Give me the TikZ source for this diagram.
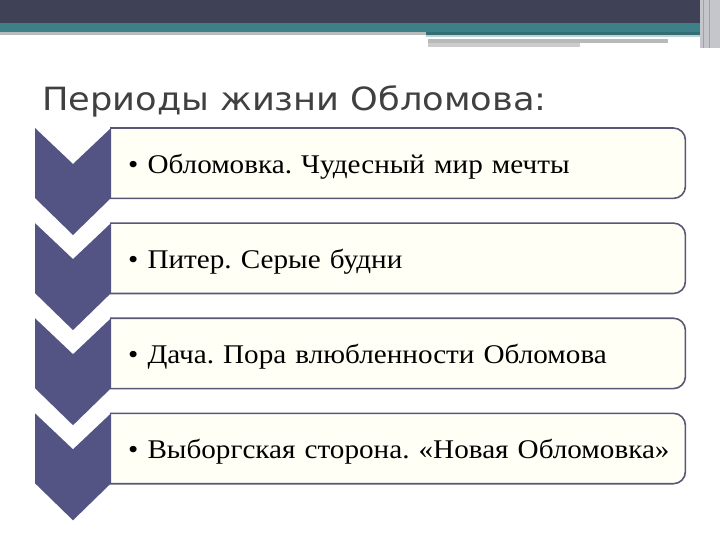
\documentclass[tikz,border=0pt]{standalone}
\usepackage{fontspec}
\setmainfont[FakeStretch=1.08, WordSpace=1.25]{Liberation Serif}
\newfontfamily\titlefont[FakeStretch=1.1]{DejaVu Sans}
\usetikzlibrary{positioning}
\definecolor{barDark}{RGB}{63,66,86}
\definecolor{barTeal}{RGB}{62,128,136}
\definecolor{chevFill}{RGB}{84,84,132}
\definecolor{lineCol}{RGB}{88,87,116}
\definecolor{boxFill}{RGB}{255,255,246}
\definecolor{titleCol}{RGB}{64,64,64}
\frenchspacing

\begin{document}
\begin{tikzpicture}[
        x=1pt, y=-1pt,
        node distance=24.7pt,
        item/.style={rectangle, fill=boxFill, rounded corners=12pt, minimum width=575pt, minimum height=70pt},
        itemtext/.style={anchor=base west, inner sep=0pt, font=\fontsize{27}{30}\selectfont},
        border/.style={draw=lineCol, line width=1.6pt, rounded corners=12pt},
        chev/.style={fill=chevFill}
    ]
    \useasboundingbox (0,0) rectangle (720,540);

    % ВЕРХНЯЯ ПОЛОСА
    \fill[barDark] (0,0) rectangle (720,23);
    \fill[barTeal] (0,23) rectangle (720,32);
    \fill[black!25!cyan!10!gray!60] (0,32) rectangle (426,35);
    \fill[barTeal!85!black] (426,32) rectangle (700,35);
    \fill[barTeal!35!white] (426,35) rectangle (700,37);
    \fill[gray!55] (428,39) rectangle (668,43);
    \fill[gray!40] (428,43) rectangle (580,47);
    \fill[barDark!30!white] (700,0) rectangle (720,48);
    \draw[barDark!50!white, line width=1pt] (703,0) -- (703,48);
    \draw[barDark!50!white, line width=1pt] (709,0) -- (709,48);

    % ЗАГОЛОВОК
    \node[anchor=base west, inner sep=0pt, text=titleCol, font=\titlefont\fontsize{32}{38}\selectfont] (title) at (42,111) {Периоды жизни Обломова:};

    % ПУНКТЫ
    \node[item, anchor=north west] (b1) at (110,128) {};
    \node[item, below=of b1] (b2) {};
    \node[item, below=of b2] (b3) {};
    \node[item, below=of b3] (b4) {};

    \node[itemtext] (t1) at ([xshift=18pt, yshift=-10pt]b1.west) {• Обломовка. Чудесный мир мечты};
    \node[itemtext] (t2) at ([xshift=18pt, yshift=-10pt]b2.west) {• Питер. Серые будни};
    \node[itemtext] (t3) at ([xshift=18pt, yshift=-10pt]b3.west) {• Дача. Пора влюбленности Обломова};
    \node[itemtext] (t4) at ([xshift=18pt, yshift=-10pt]b4.west) {• Выборгская сторона. «Новая Обломовка»};

    \draw[border] (b1.north west) -- (b1.north east) -- (b1.south east) -- (b1.south west);
    \draw[border] (b2.north west) -- (b2.north east) -- (b2.south east) -- (b2.south west);
    \draw[border] (b3.north west) -- (b3.north east) -- (b3.south east) -- (b3.south west);
    \draw[border] (b4.north west) -- (b4.north east) -- (b4.south east) -- (b4.south west);

    % ШЕВРОНЫ
    \fill[chev] ([xshift=1pt]b1.north west) -- ++(-38,36) -- ++(-38,-36) -- ++(0,70) -- ++(38,37) -- ++(38,-37) -- cycle;
    \fill[chev] ([xshift=1pt]b2.north west) -- ++(-38,36) -- ++(-38,-36) -- ++(0,70) -- ++(38,37) -- ++(38,-37) -- cycle;
    \fill[chev] ([xshift=1pt]b3.north west) -- ++(-38,36) -- ++(-38,-36) -- ++(0,70) -- ++(38,37) -- ++(38,-37) -- cycle;
    \fill[chev] ([xshift=1pt]b4.north west) -- ++(-38,36) -- ++(-38,-36) -- ++(0,70) -- ++(38,37) -- ++(38,-37) -- cycle;
\end{tikzpicture}
\end{document}
